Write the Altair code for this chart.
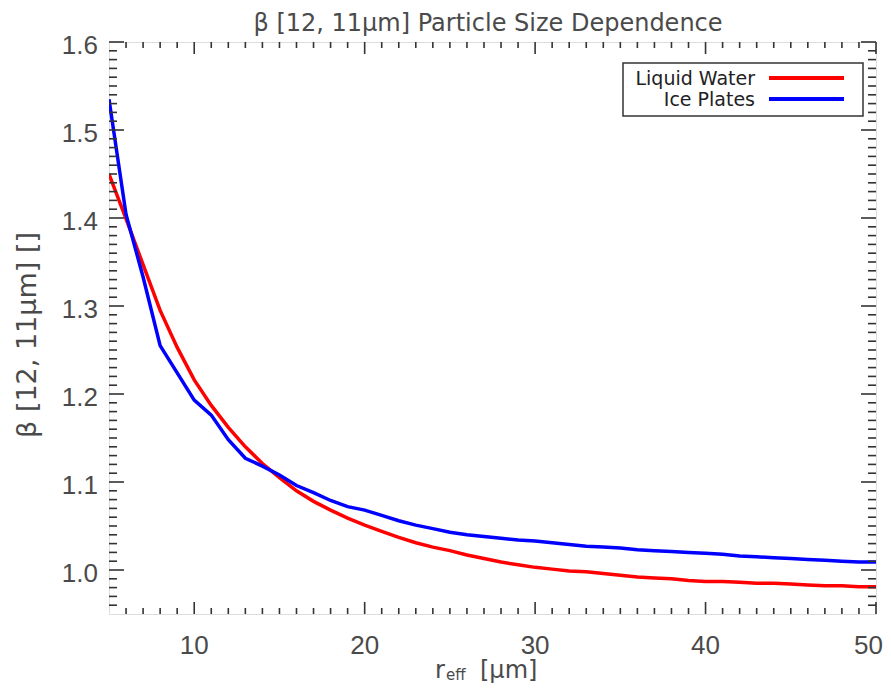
import altair as alt
import pandas as pd

# ---------------- data ----------------
r_eff = list(range(5, 51))
liquid_water = [1.450, 1.399, 1.347, 1.295, 1.253, 1.216, 1.187, 1.162, 1.140, 1.121,
                1.105, 1.090, 1.078, 1.068, 1.059, 1.051, 1.044, 1.037, 1.031, 1.026,
                1.022, 1.017, 1.013, 1.009, 1.006, 1.003, 1.001, 0.999, 0.998, 0.996,
                0.994, 0.992, 0.991, 0.990, 0.988, 0.987, 0.987, 0.986, 0.985, 0.985,
                0.984, 0.983, 0.982, 0.982, 0.981, 0.981]
ice_plates = [1.535, 1.404, 1.333, 1.255, 1.224, 1.193, 1.176, 1.148, 1.127, 1.118,
              1.108, 1.096, 1.088, 1.079, 1.072, 1.068, 1.062, 1.056, 1.051, 1.047,
              1.043, 1.040, 1.038, 1.036, 1.034, 1.033, 1.031, 1.029, 1.027, 1.026,
              1.025, 1.023, 1.022, 1.021, 1.020, 1.019, 1.018, 1.016, 1.015, 1.014,
              1.013, 1.012, 1.011, 1.010, 1.009, 1.009]
series_names = ["Liquid Water", "Ice Plates"]
series_colors = ["#ff0000", "#0000ff"]

x_major = [10, 20, 30, 40, 50]
x_major_labels = ["10", "20", "30", "40", "50"]
x_minor = [v for v in range(6, 50) if v % 10]
y_major = [1.0, 1.1, 1.2, 1.3, 1.4, 1.5, 1.6]
y_major_labels = ["1.0", "1.1", "1.2", "1.3", "1.4", "1.5", "1.6"]
y_minor = [round(0.95 + 0.01 * i, 2) for i in range(1, 65) if i % 10 != 5]

title_text = "β  [12, 11μm]  Particle Size Dependence"
y_title_text = "β   [12,  11μm]   []"

# ---------------- layout ----------------
W, H = 767, 572
LBL_FONT = "Liberation Sans"
TTL_FONT = "DejaVu Sans"
AX_COLOR = "#333333"
TXT_COLOR = "#4a4a4a"

df = pd.DataFrame({
    "r": r_eff * 2,
    "beta": liquid_water + ice_plates,
    "series": [series_names[0]] * len(r_eff) + [series_names[1]] * len(r_eff),
})

xs = alt.Scale(domain=[5, 50], nice=False, zero=False)
ys = alt.Scale(domain=[0.95, 1.6], nice=False, zero=False)

lines = alt.Chart(df).mark_line(strokeWidth=3.5, clip=True).encode(
    x=alt.X("r:Q", scale=xs, axis=None),
    y=alt.Y("beta:Q", scale=ys, axis=None),
    color=alt.Color("series:N", scale=alt.Scale(domain=series_names, range=series_colors),
                    legend=None),
    order="r:Q",
)


def xticks(vals, length, top):
    d = pd.DataFrame({"t": vals})
    if top:
        enc = dict(y=alt.value(0), y2=alt.value(length))
    else:
        enc = dict(y=alt.value(H), y2=alt.value(H - length))
    return alt.Chart(d).mark_rule(color=AX_COLOR, strokeWidth=1.6).encode(
        x=alt.X("t:Q", scale=xs, axis=None), **enc)


def yticks(vals, length, right):
    d = pd.DataFrame({"t": vals})
    if right:
        enc = dict(x=alt.value(W), x2=alt.value(W - length))
    else:
        enc = dict(x=alt.value(0), x2=alt.value(length))
    return alt.Chart(d).mark_rule(color=AX_COLOR, strokeWidth=1.6).encode(
        y=alt.Y("t:Q", scale=ys, axis=None), **enc)


ticks = [
    xticks(x_major, 12, False), xticks(x_minor, 6, False),
    xticks(x_major, 12, True), xticks(x_minor, 6, True),
    yticks(y_major, 15, False), yticks(y_minor, 8, False),
    yticks(y_major, 15, True), yticks(y_minor, 8, True),
]

# tick labels (last x label kept inside the page edge)
XL_BASE = H + 40
xlab_df = pd.DataFrame({"t": x_major, "lab": x_major_labels})
xlab = alt.Chart(xlab_df.iloc[:-1]).mark_text(
    font=LBL_FONT, fontSize=26, color=TXT_COLOR, align="center", baseline="alphabetic"
).encode(x=alt.X("t:Q", scale=xs, axis=None), y=alt.value(XL_BASE), text="lab:N")
xlab_last = alt.Chart(xlab_df.iloc[-1:]).mark_text(
    font=LBL_FONT, fontSize=26, color=TXT_COLOR, align="right", baseline="alphabetic", dx=7
).encode(x=alt.X("t:Q", scale=xs, axis=None), y=alt.value(XL_BASE), text="lab:N")
ylab = alt.Chart(pd.DataFrame({"t": y_major, "lab": y_major_labels})).mark_text(
    font=LBL_FONT, fontSize=26, color=TXT_COLOR, align="right", baseline="alphabetic", dy=12
).encode(y=alt.Y("t:Q", scale=ys, axis=None), x=alt.value(-11), text="lab:N")

one = pd.DataFrame({"a": [0]})

title = alt.Chart(one).mark_text(
    font=TTL_FONT, fontSize=24, color=TXT_COLOR, align="center", baseline="alphabetic"
).encode(x=alt.value(379), y=alt.value(-11), text=alt.value(title_text))

ytitle = alt.Chart(one).mark_text(
    font=TTL_FONT, fontSize=27, color=TXT_COLOR, align="center", baseline="middle", angle=270
).encode(x=alt.value(-81), y=alt.value(293), text=alt.value(y_title_text))

XT_BASE = 636
xt_r = alt.Chart(one).mark_text(
    font=TTL_FONT, fontSize=24, color=TXT_COLOR, align="left", baseline="alphabetic"
).encode(x=alt.value(326), y=alt.value(XT_BASE), text=alt.value("r"))
xt_sub = alt.Chart(one).mark_text(
    font=TTL_FONT, fontSize=15, color=TXT_COLOR, align="left", baseline="alphabetic"
).encode(x=alt.value(337), y=alt.value(XT_BASE + 2), text=alt.value("eff"))
xt_unit = alt.Chart(one).mark_text(
    font=TTL_FONT, fontSize=24, color=TXT_COLOR, align="left", baseline="alphabetic"
).encode(x=alt.value(371), y=alt.value(XT_BASE), text=alt.value("[μm]"))

# legend (drawn by hand, IDL style)
LX0, LX1, LY0, LY1 = 514, 754, 21, 74
legend_box = alt.Chart(one).mark_rect(fill="white", stroke=AX_COLOR, strokeWidth=1.5).encode(
    x=alt.value(LX0), x2=alt.value(LX1), y=alt.value(LY0), y2=alt.value(LY1))
legend_layers = [legend_box]
row_y = [36, 57]
for name, col, yy in zip(series_names, series_colors, row_y):
    legend_layers.append(alt.Chart(one).mark_text(
        font=TTL_FONT, fontSize=19, color="#222222", align="right", baseline="middle"
    ).encode(x=alt.value(646), y=alt.value(yy + 1), text=alt.value(name)))
    legend_layers.append(alt.Chart(one).mark_rule(color=col, strokeWidth=4).encode(
        x=alt.value(660), x2=alt.value(735), y=alt.value(yy)))

chart = alt.layer(
    lines, *ticks, xlab, xlab_last, ylab, *legend_layers, title, ytitle, xt_r, xt_sub, xt_unit
).properties(
    width=W, height=H,
    autosize=alt.AutoSizeParams(type="none"),
    padding={"left": 101, "top": 34, "right": 7, "bottom": 70},
).configure_view(
    stroke=AX_COLOR, strokeWidth=2
).configure(background="white")

chart.save("out.html", embed_options={"renderer": "svg", "actions": False})
